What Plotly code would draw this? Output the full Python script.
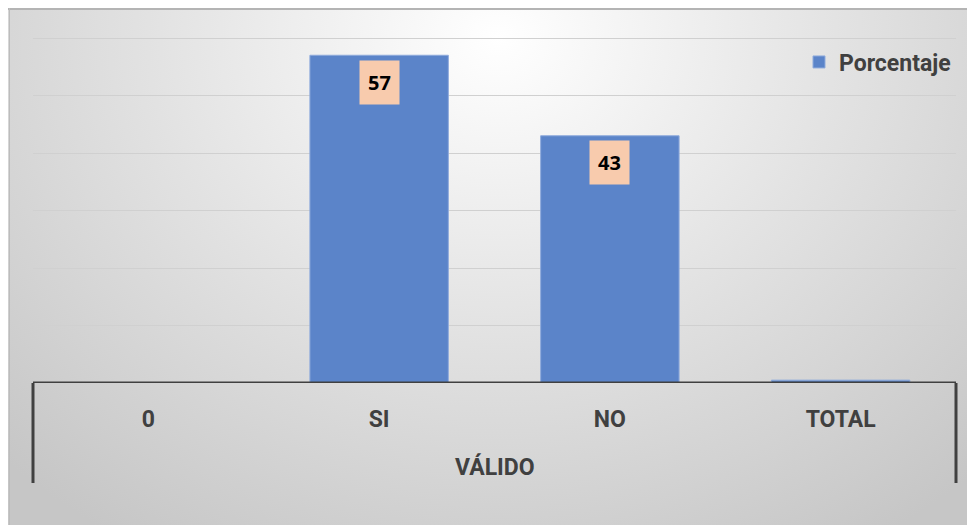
import base64
import plotly.graph_objects as go

categories = ["0", "SI", "NO", "TOTAL"]
porcentaje = [0, 57, 43, 0.5]
label_values = ["", "57", "43", ""]
axis_group_title = "VÁLIDO"
series_name = "Porcentaje"

W, H = 975, 525
L, R, T, B = 25, 27, 28, 150
PW, PH = W - L - R, H - T - B
YMAX = 60.35

svg = f'''<svg xmlns="http://www.w3.org/2000/svg" width="{W}" height="{H}" viewBox="0 0 {W} {H}" preserveAspectRatio="none">
<defs><radialGradient id="g" gradientUnits="userSpaceOnUse" cx="490" cy="30" r="700" gradientTransform="translate(490 30) scale(1 0.85) translate(-490 -30)">
<stop offset="0" stop-color="#ffffff"/><stop offset="0.5" stop-color="#e2e2e2"/><stop offset="1" stop-color="#c6c6c6"/></radialGradient></defs>
<rect x="0" y="0" width="{W}" height="{H}" fill="url(#g)"/>
<line x1="0" y1="1" x2="{W}" y2="1" stroke="#b4b4b4" stroke-width="2"/>
<line x1="1.5" y1="0" x2="1.5" y2="{H}" stroke="#bcbcbc" stroke-width="1"/>
</svg>'''
uri = "data:image/svg+xml;base64," + base64.b64encode(svg.encode()).decode()

FONT = "Roboto, Liberation Sans, Arial"

fig = go.Figure()
fig.add_trace(go.Bar(
    x=categories, y=porcentaje, name=f"<b>{series_name}</b>",
    marker=dict(color="#5b84c9", line=dict(color="#8fabdc", width=1)),
    width=0.6,
))

for c, v, t in zip(categories, porcentaje, label_values):
    if t:
        fig.add_annotation(x=c, y=v, text=f"<b>{t}</b>", showarrow=False,
                           yshift=-27, bgcolor="#f8cbad", borderpad=8,
                           font=dict(family="Open Sans, Liberation Sans, Arial", size=20, color="#000000"))

fig.add_annotation(x=0.5, xref="paper", y=-84 / PH, yref="paper", yanchor="middle",
                   text=f"<b>{axis_group_title}</b>", showarrow=False,
                   font=dict(family=FONT, size=23, color="#404040"))

axis_color = "#404040"
shapes = [
    dict(type="line", xref="paper", yref="y", x0=0, x1=1, y0=0, y1=0, line=dict(color=axis_color, width=3)),
    dict(type="line", xref="paper", yref="paper", x0=0, x1=0, y0=0, y1=-100 / PH, line=dict(color=axis_color, width=3)),
    dict(type="line", xref="paper", yref="paper", x0=1, x1=1, y0=0, y1=-100 / PH, line=dict(color=axis_color, width=3)),
]

fig.update_layout(
    width=W, height=H,
    margin=dict(l=L, r=R, t=T, b=B),
    paper_bgcolor="rgba(0,0,0,0)",
    plot_bgcolor="rgba(0,0,0,0)",
    images=[dict(source=uri, xref="paper", yref="paper", x=-L / PW, y=1 + T / PH,
                 sizex=W / PW, sizey=H / PH, xanchor="left", yanchor="top",
                 sizing="stretch", layer="below")],
    shapes=shapes,
    showlegend=True,
    legend=dict(x=1.0, xanchor="right", y=1 - 26 / PH, yanchor="middle", bgcolor="rgba(0,0,0,0)",
                font=dict(family=FONT, size=23, color="#404040"),
                itemwidth=30),
    xaxis=dict(showgrid=False, showline=False, ticks="", zeroline=False,
               tickfont=dict(family=FONT, size=23, color="#404040", weight="bold"),
               ticklabelstandoff=20),
    yaxis=dict(range=[0, YMAX], dtick=10, showgrid=True, gridcolor="#d0d0d0", gridwidth=1,
               showticklabels=False, zeroline=False, showline=False, ticks=""),
    bargap=0.4,
)

fig.write_html("out.html")
